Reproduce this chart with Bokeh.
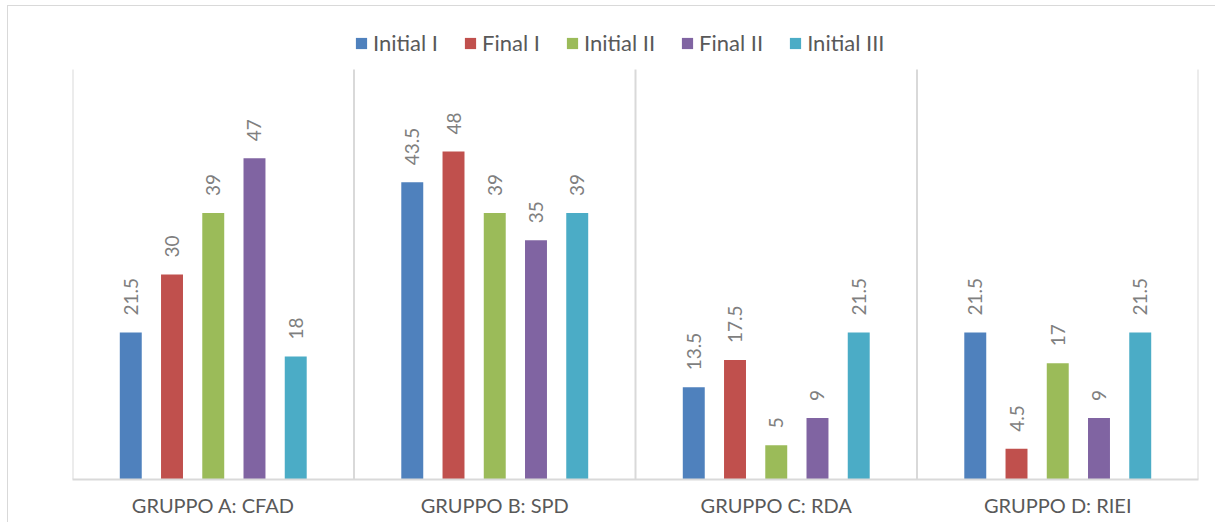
from bokeh.plotting import figure
from bokeh.layouts import column
from bokeh.models import FactorRange, Range1d, Legend, LegendItem, ColumnDataSource
from bokeh.transform import dodge
from bokeh.core.properties import value
from bokeh.embed import file_html
from bokeh.resources import INLINE
import math

categories = ["GRUPPO A: CFAD", "GRUPPO B: SPD", "GRUPPO C: RDA", "GRUPPO D: RIEI"]
series_names = ["Initial I", "Final I", "Initial II", "Final II", "Initial III"]
initial_1 = [21.5, 43.5, 13.5, 21.5]
final_1 = [30, 48, 17.5, 4.5]
initial_2 = [39, 39, 5, 17]
final_2 = [47, 35, 9, 9]
initial_3 = [18, 39, 21.5, 21.5]
colors = ["#4F81BD", "#C0504D", "#9BBB59", "#8064A2", "#4BACC6"]
y_max = 60

series_values = [initial_1, final_1, initial_2, final_2, initial_3]

FONT = "Lato"

# frame: 470 px tall, of which 60 units = 410 px
top_units = y_max * 470.0 / 410.0

p = figure(width=1207, height=516, output_backend="svg", toolbar_location=None,
           x_range=FactorRange(*categories, range_padding=0, factor_padding=0),
           y_range=Range1d(0, top_units),
           min_border_left=64, min_border_right=17, min_border_top=3, min_border_bottom=43)
p.outline_line_color = None
p.xgrid.grid_line_color = None
p.ygrid.grid_line_color = None
p.yaxis.visible = False
p.background_fill_color = "white"
p.border_fill_color = "white"

# category separators
n = len(categories)
p.segment(x0=list(range(n + 1)), x1=list(range(n + 1)), y0=[0] * (n + 1), y1=[y_max] * (n + 1),
          line_color="#d9d9d9", line_width=2)

offsets = [-0.293, -0.1465, 0.0, 0.1465, 0.293]
bar_w = 0.078

items = []
for name, vals, col, off in zip(series_names, series_values, colors, offsets):
    src = ColumnDataSource(dict(cat=categories, val=vals, lab=[("%g" % v) for v in vals]))
    r = p.vbar(x=dodge("cat", off, range=p.x_range), top="val", width=bar_w, source=src,
               fill_color=col, line_color=None)
    p.text(x=dodge("cat", off, range=p.x_range), y="val", text="lab", source=src,
           angle=math.pi / 2, text_align="left", text_baseline="middle",
           y_offset=-17, text_font=value(FONT), text_font_size="19px", text_color="#7f7f7f")
    items.append(LegendItem(label=name, renderers=[r]))

xa = p.xaxis[0]
xa.axis_line_color = "#d9d9d9"
xa.axis_line_width = 2
xa.major_tick_line_color = None
xa.minor_tick_line_color = None
xa.major_tick_out = 0
xa.major_tick_in = 0
xa.major_label_text_font = FONT
xa.major_label_text_font_size = "20px"
xa.major_label_text_color = "#595959"
xa.major_label_standoff = 13

legend = Legend(items=items, orientation="horizontal", location=(282, 423),
                label_text_font=FONT, label_text_font_size="22px", label_text_color="#595959",
                glyph_width=14, glyph_height=14, label_standoff=5, spacing=25,
                border_line_color=None, background_fill_alpha=0, padding=4, margin=0)
p.add_layout(legend)

layout = column(p, margin=(5, 0, 0, 7),
                styles={"border-left": "1.5px solid #d9d9d9", "border-top": "1.5px solid #d9d9d9",
                        "background-color": "white"})

open("out.html", "w").write(file_html(layout, INLINE))
